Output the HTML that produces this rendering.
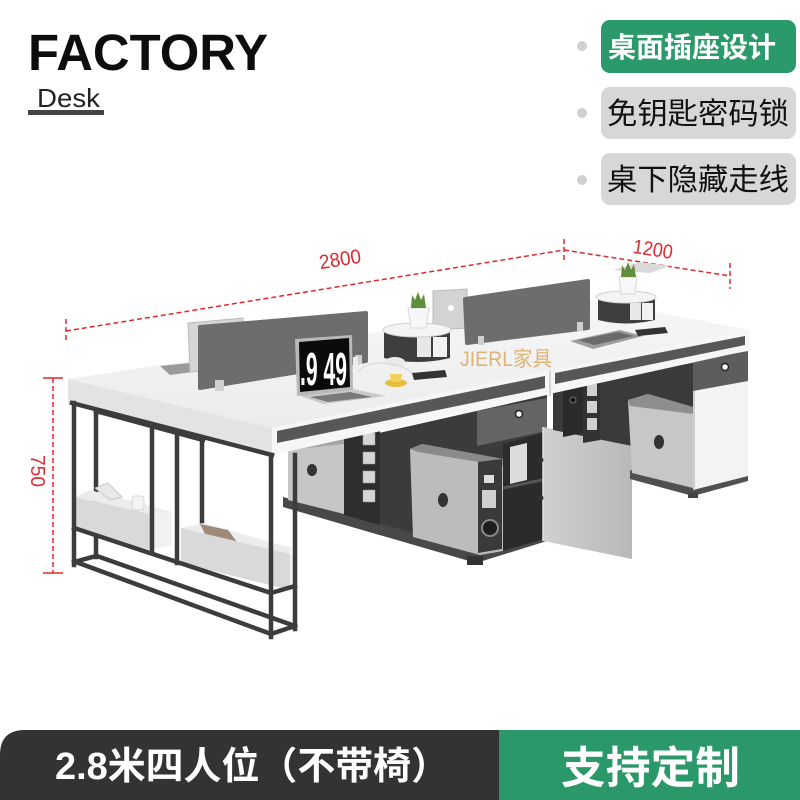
<!DOCTYPE html>
<html><head><meta charset="utf-8">
<style>
html,body{margin:0;padding:0;background:#fff;}
body{width:800px;height:800px;overflow:hidden;}
svg{display:block;}
text{font-family:"Liberation Sans","Noto Sans CJK SC",sans-serif;}
</style></head>
<body>
<svg width="800" height="800" viewBox="0 0 800 800" xmlns="http://www.w3.org/2000/svg">
<defs>
<linearGradient id="door" x1="0" y1="0" x2="1" y2="0">
<stop offset="0" stop-color="#d0d0d0"/><stop offset="1" stop-color="#b8b8b8"/>
</linearGradient>
<linearGradient id="top" x1="0" y1="0" x2="0" y2="1">
<stop offset="0" stop-color="#f6f6f6"/><stop offset="1" stop-color="#ececec"/>
</linearGradient>
</defs>
<rect width="800" height="800" fill="#fff"/>

<!-- Header -->
<text x="28" y="70" font-size="51" font-weight="bold" fill="#0d0d0d" textLength="240" lengthAdjust="spacingAndGlyphs">FACTORY</text>
<text x="37" y="107" font-size="26" fill="#222" textLength="63" lengthAdjust="spacingAndGlyphs">Desk</text>
<rect x="28" y="110" width="76" height="5" fill="#444"/>

<circle cx="582" cy="46" r="5" fill="#d0d0d0"/>
<circle cx="582" cy="113" r="5" fill="#d0d0d0"/>
<circle cx="582" cy="180" r="5" fill="#d0d0d0"/>
<rect x="601" y="20" width="195" height="53" rx="9" fill="#2b9a6a"/>
<text x="608" y="57" font-size="28" font-weight="bold" fill="#fff" textLength="168" lengthAdjust="spacingAndGlyphs">桌面插座设计</text>
<rect x="601" y="87" width="195" height="52" rx="9" fill="#d7d7d7"/>
<text x="607" y="124" font-size="30" fill="#111" textLength="182" lengthAdjust="spacingAndGlyphs">免钥匙密码锁</text>
<rect x="601" y="153" width="195" height="52" rx="9" fill="#d7d7d7"/>
<text x="607" y="190" font-size="30" fill="#111" textLength="182" lengthAdjust="spacingAndGlyphs">桌下隐藏走线</text>

<!-- Dimension lines -->
<g stroke="#e0282e" stroke-width="1.5" fill="none" stroke-dasharray="5,3">
<line x1="66" y1="331" x2="564" y2="250"/>
<line x1="66" y1="319" x2="66" y2="342"/>
<line x1="564" y1="239" x2="564" y2="263"/>
<line x1="564" y1="250" x2="730" y2="276"/>
<line x1="730" y1="263" x2="730" y2="289"/>
<line x1="53" y1="378" x2="53" y2="573"/>
</g>
<g stroke="#e0282e" stroke-width="1.5">
<line x1="43" y1="378" x2="63" y2="378"/>
<line x1="43" y1="573" x2="63" y2="573"/>
</g>
<text x="340" y="266" font-size="20" fill="#e0282e" text-anchor="middle" transform="rotate(-9 340 259)" textLength="42" lengthAdjust="spacingAndGlyphs">2800</text>
<text x="653" y="256" font-size="20" fill="#e0282e" text-anchor="middle" transform="rotate(9 653 249)" textLength="40" lengthAdjust="spacingAndGlyphs">1200</text>
<text x="38" y="478" font-size="20" fill="#e0282e" text-anchor="middle" transform="rotate(90 38 471)" textLength="32" lengthAdjust="spacingAndGlyphs">750</text>

<!-- Under-desk left half -->
<polygon points="290,453 547,395 547,536 476,553 380,524 290,500" fill="#3b3b3b"/>
<polygon points="283,497 476,550 547,532 547,541 476,563 283,507" fill="#484848"/>
<polygon points="288,443 344,437 344,514 288,500" fill="#c6c6c6"/>
<polygon points="288,443 344,437 344,444 288,450" fill="#a4a4a4"/>
<ellipse cx="312" cy="470" rx="5" ry="6" fill="#333"/>
<polygon points="344,431 380,425 380,525 344,515" fill="#2e2e2e"/>
<g fill="#d5d5d5" stroke="#999" stroke-width="0.5">
<rect x="363" y="433" width="12" height="12"/>
<rect x="363" y="452" width="12" height="12"/>
<rect x="363" y="471" width="12" height="12"/>
<rect x="363" y="490" width="12" height="12"/>
</g>
<polygon points="477,411 547,398 547,431 477,446" fill="#646464"/>
<circle cx="519" cy="414" r="3.5" fill="#fff" stroke="#222" stroke-width="1.5"/>
<polygon points="503,444 547,432 547,538 503,551" fill="#2b2b2b"/>
<polygon points="510,447 527,443 527,480 510,484" fill="#dcdcdc"/>
<line x1="503" y1="488" x2="547" y2="479" stroke="#555" stroke-width="3"/>
<polygon points="410,449 422,444 503,459 503,551 480,555 413,537" fill="#bcbcbc"/>
<polygon points="410,449 422,444 503,459 503,466 418,452" fill="#8a8a8a"/>
<polygon points="478,462 502,459 502,549 478,553" fill="#3a3a3a"/>
<rect x="484" y="475" width="10" height="8" fill="#ddd"/>
<rect x="482" y="490" width="14" height="18" fill="#cfcfcf"/>
<circle cx="490" cy="528" r="8" fill="#1e1e1e" stroke="#888" stroke-width="2"/>
<ellipse cx="443" cy="500" rx="5" ry="7" fill="#333"/>
<rect x="467" y="556" width="16" height="9" fill="#333"/>
<polygon points="543,427 632,446 632,559 543,541" fill="url(#door)"/>
<line x1="543" y1="427" x2="543" y2="541" stroke="#e2e2e2" stroke-width="1.5"/>
<circle cx="541" cy="460" r="2.5" fill="#333"/>
<circle cx="541" cy="498" r="2.5" fill="#333"/>

<!-- Under-desk right half -->
<polygon points="553,387 697,362 697,488 632,472 632,446 553,430" fill="#3a3a3a"/>
<polygon points="563,385 583,381 583,433 563,437" fill="#2a2a2a"/>
<circle cx="573" cy="400" r="3" fill="#111" stroke="#777"/>
<polygon points="583,381 600,378 600,440 583,443" fill="#333"/>
<g fill="#d0d0d0">
<rect x="587" y="384" width="10" height="12"/>
<rect x="587" y="401" width="10" height="12"/>
<rect x="587" y="418" width="10" height="12"/>
</g>
<polygon points="630,470 693,486 748,474 748,481 693,496 630,479" fill="#505050"/>
<polygon points="628,400 648,394 693,407 693,488 632,473" fill="#c7c7c7"/>
<polygon points="628,400 648,394 693,407 693,414 630,406" fill="#8e8e8e"/>
<ellipse cx="659" cy="442" rx="5" ry="7" fill="#333"/>
<polygon points="693,390 748,380 748,476 693,490" fill="#f3f3f3"/>
<line x1="694" y1="390" x2="694" y2="490" stroke="#cfcfcf" stroke-width="2"/>
<polygon points="693,361 748,351 748,381 693,391" fill="#5d5d5d"/>
<circle cx="725" cy="367" r="3.5" fill="#fff" stroke="#222" stroke-width="1.5"/>
<rect x="688" y="492" width="10" height="6" fill="#444"/>

<!-- Desk top -->
<polygon points="68,379 272,428 750,330 592,300" fill="url(#top)"/>
<polygon points="68,379 272,428 272,455 68,403" fill="#e3e3e3"/>
<polygon points="272,428 750,330 750,350 272,455" fill="#f6f6f6"/>
<polygon points="277,431 545,376 545,388 277,443" fill="#575757"/>
<polygon points="555,373 745,336 745,345 555,384" fill="#575757"/>
<line x1="550" y1="371" x2="550" y2="396" stroke="#c8c8c8" stroke-width="1.5"/>

<!-- Left frame (back parts) -->
<g stroke="#3c3c3c" stroke-width="4.5" stroke-linecap="square">
<line x1="96" y1="411" x2="96" y2="557"/>
<line x1="202" y1="439" x2="202" y2="528"/>
<line x1="96" y1="411" x2="203" y2="440"/>
<line x1="97" y1="556" x2="295" y2="626"/>
</g>

<!-- Baskets -->
<polygon points="75,497 90,490 172,512 172,518 150,514" fill="#ececec"/>
<polygon points="95,488 108,483 122,497 110,500" fill="#e8e8e8" stroke="#bbb" stroke-width="0.8"/>
<rect x="132" y="496" width="12" height="14" rx="3" fill="#f4f4f4" stroke="#ccc" stroke-width="0.8"/>
<polygon points="75,497 150,514 150,550 75,529" fill="#d9d9d9"/>
<polygon points="150,514 172,512 172,545 150,550" fill="#f1f1f1"/>
<polygon points="181,528 203,523 292,548 290,554" fill="#ececec"/>
<polygon points="200,524 228,530 240,546 206,536" fill="#9e8a78"/>
<polygon points="181,528 290,554 290,590 181,563" fill="#d9d9d9"/>
<polygon points="290,554 297,552 297,588 290,590" fill="#f0f0f0"/>

<!-- Left frame (front parts) -->
<g stroke="#3c3c3c" stroke-width="4.5" stroke-linecap="square">
<line x1="74" y1="403" x2="74" y2="565"/>
<line x1="152" y1="426" x2="152" y2="552"/>
<line x1="177" y1="432" x2="177" y2="563"/>
<line x1="271" y1="455" x2="271" y2="637"/>
<line x1="295" y1="455" x2="295" y2="629"/>
<line x1="72" y1="403" x2="272" y2="455"/>
<line x1="74" y1="528" x2="271" y2="593"/>
<line x1="76" y1="562" x2="271" y2="634"/>
<line x1="74" y1="562" x2="96" y2="556"/>
<line x1="271" y1="593" x2="295" y2="586"/>
<line x1="271" y1="634" x2="295" y2="626"/>
</g>

<!-- Items on desk: back laptops & partitions -->
<polygon points="160,366 190,363 200,371 170,375" fill="#9a9a9a"/>
<polygon points="188,323 243,318 243,368 190,372" fill="#d5d5d5" stroke="#bbb" stroke-width="1"/>
<polygon points="200,327 366,313 366,361 200,388" fill="#6d6d6d" stroke="#6d6d6d" stroke-width="4" stroke-linejoin="round"/>
<rect x="215" y="380" width="9" height="11" fill="#cfcfcf"/>
<rect x="355" y="355" width="7" height="9" fill="#cfcfcf"/>

<polygon points="433,291 467,289 467,328 433,330" fill="#d3d3d3" stroke="#bbb" stroke-width="1"/>
<circle cx="451" cy="308" r="3" fill="#fff"/>
<polygon points="465,299 588,281 588,328 467,343" fill="#6d6d6d" stroke="#6d6d6d" stroke-width="4" stroke-linejoin="round"/>
<rect x="478" y="336" width="6" height="9" fill="#cfcfcf"/>
<rect x="577" y="322" width="6" height="9" fill="#cfcfcf"/>

<!-- Left power pedestal -->
<path d="M384,331 L450,331 L450,358 Q417,366 384,358 Z" fill="#3e3e3e"/>
<ellipse cx="395" cy="362" rx="10" ry="5" fill="#eaeaea"/>
<rect x="417" y="337" width="14" height="20" fill="#e8e8e8"/>
<rect x="433" y="337" width="14" height="20" fill="#f2f2f2"/>
<ellipse cx="417" cy="330" rx="34" ry="7" fill="#f4f4f4" stroke="#cfcfcf" stroke-width="1"/>
<polygon points="408,308 429,308 426,328 411,328" fill="#f7f7f7" stroke="#d8d8d8" stroke-width="1"/>
<path d="M411,308 L412,295 L415,300 L418,292 L421,300 L424,294 L426,308 Z" fill="#5f8f3a"/>

<!-- Right power pedestal -->
<polygon points="613,270 640,262 670,266 650,273" fill="#dadada"/>
<path d="M598,298 L655,298 L655,320 Q626,327 598,320 Z" fill="#3e3e3e"/>
<rect x="630" y="303" width="11" height="17" fill="#e8e8e8"/>
<rect x="642" y="303" width="11" height="17" fill="#f2f2f2"/>
<ellipse cx="626" cy="297" rx="30" ry="6" fill="#f4f4f4" stroke="#cfcfcf" stroke-width="1"/>
<polygon points="619,277 637,277 635,294 621,294" fill="#f7f7f7" stroke="#d8d8d8" stroke-width="1"/>
<path d="M621,277 L622,265 L625,270 L628,262 L631,270 L634,264 L636,277 Z" fill="#5f8f3a"/>

<!-- Right laptop & phone -->
<polygon points="570,341 620,330 643,336 593,349" fill="#9d9d9d"/>
<polygon points="578,340 618,332 634,336 594,345" fill="#6a6a6a"/>
<polygon points="635,330 665,327 668,333 638,336" fill="#333"/>

<!-- Front laptop -->
<polygon points="298,395 352,389 386,396 323,404" fill="#c9c9c9"/>
<polygon points="310,397 350,392 372,397 328,402" fill="#7a7a7a"/>
<polygon points="295,339 352,335 353,390 297,396" fill="#b9b9b9"/>
<polygon points="299,342 349,338 350,387 300,392" fill="#0b0b0b"/>
<text x="300" y="385" font-size="46" font-weight="bold" fill="#fff" textLength="47" lengthAdjust="spacingAndGlyphs">.9 49</text>
<rect x="353" y="357" width="5" height="13" fill="#eee"/>
<path d="M358,372 Q368,360 392,364 Q410,368 414,376" stroke="#dedede" stroke-width="1.5" fill="none"/>

<!-- Cup & phone -->
<ellipse cx="396" cy="383" rx="11" ry="4" fill="#e6bd3c"/>
<path d="M390,374 L402,374 L401,382 L391,382 Z" fill="#f2d15a"/>
<polygon points="412,373 445,370 447,377 414,380" fill="#333"/>

<!-- Watermark -->
<text x="460" y="366" font-size="21" fill="#d9a860" fill-opacity="0.85" textLength="92" lengthAdjust="spacingAndGlyphs">JIERL家具</text>

<!-- Bottom bar -->
<path d="M0,755 Q0,730 25,730 L499,730 L499,800 L0,800 Z" fill="#333333"/>
<rect x="499" y="730" width="301" height="70" fill="#2a9869"/>
<text x="55" y="779" font-size="38" font-weight="bold" fill="#fff" textLength="394" lengthAdjust="spacingAndGlyphs">2.8米四人位（不带椅）</text>
<text x="561" y="783" font-size="44" font-weight="bold" fill="#fff" textLength="179" lengthAdjust="spacingAndGlyphs">支持定制</text>
</svg>
</body></html>
